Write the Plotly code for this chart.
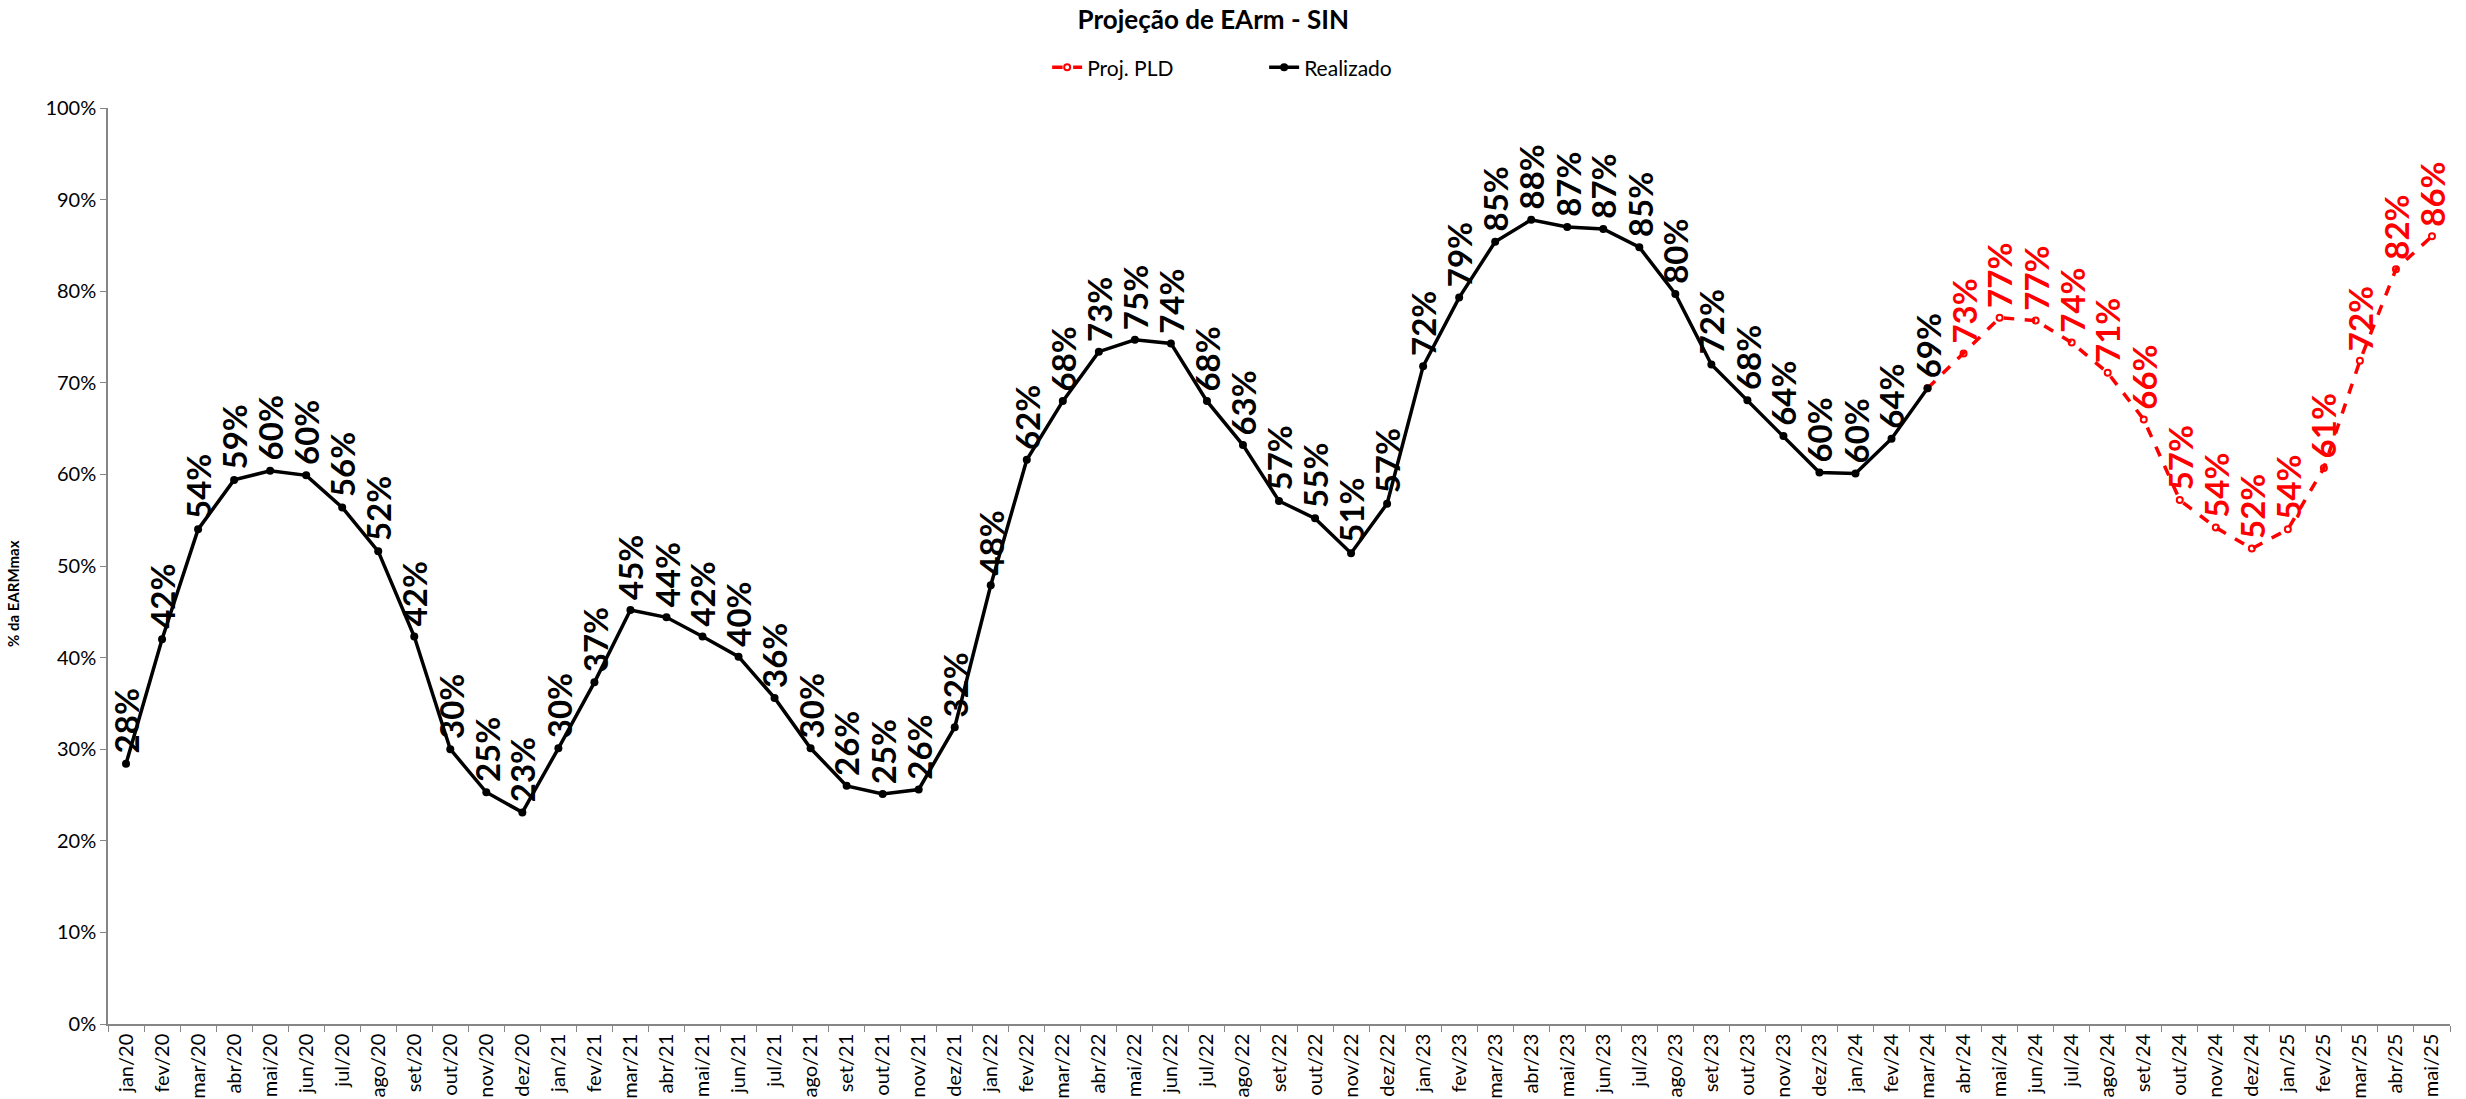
import plotly.graph_objects as go

# Month labels (Portuguese abbreviations) from jan/20 to mai/25
month_names = ["jan", "fev", "mar", "abr", "mai", "jun", "jul", "ago", "set", "out", "nov", "dez"]
categories = [f"{m}/{y}" for y in range(20, 26) for m in month_names][:65]

# Stored energy (% of EARM max), realised history jan/20 .. mar/24
realizado = [
    0.284, 0.420, 0.540, 0.594, 0.604, 0.599, 0.564, 0.516, 0.423, 0.300, 0.253, 0.231,
    0.301, 0.373, 0.452, 0.444, 0.423, 0.401, 0.356, 0.301, 0.260, 0.251, 0.256, 0.324,
    0.479, 0.616, 0.680, 0.734, 0.747, 0.743, 0.680, 0.632, 0.571, 0.552, 0.514, 0.568,
    0.718, 0.793, 0.854, 0.878, 0.870, 0.868, 0.848, 0.797, 0.720, 0.681, 0.642, 0.602,
    0.601, 0.639, 0.694,
]

# PLD projection abr/24 .. mai/25 (anchored on the last realised value)
proj_pld = [
    0.732, 0.771, 0.768, 0.744, 0.711, 0.660, 0.572, 0.542, 0.519,
    0.540, 0.607, 0.724, 0.824, 0.860,
]

n_real = len(realizado)
real_y = realizado + [None] * (len(categories) - n_real)
proj_y = [None] * (n_real - 1) + [realizado[-1]] + proj_pld

FONT = "Lato"
RED = "#FF0000"
BLACK = "#000000"
AXIS_GREY = "#868686"

fig = go.Figure()

fig.add_trace(go.Scatter(
    x=categories, y=proj_y, name="Proj. PLD", mode="lines+markers",
    line=dict(color=RED, width=3.5, dash="dash"),
    marker=dict(symbol="circle-open", size=6, color=RED, line=dict(width=2, color=RED)),
    connectgaps=False,
))
fig.add_trace(go.Scatter(
    x=categories, y=real_y, name="Realizado", mode="lines+markers",
    line=dict(color=BLACK, width=3.5),
    marker=dict(symbol="circle", size=8, color=BLACK),
    connectgaps=False,
))

# Vertical value labels above each point
def value_label(cat, v, color):
    return dict(
        x=cat, y=v, xref="x", yref="y", text=f"{round(v * 100)}%",
        textangle=-90, showarrow=False, xanchor="center", yanchor="bottom", yshift=8,
        font=dict(family=FONT, size=33, color=color, weight="bold"),
    )

annotations = [value_label(c, v, BLACK) for c, v in zip(categories[:n_real], realizado)]
annotations += [value_label(c, v, RED) for c, v in zip(categories[n_real:], proj_pld)]

# y-axis title placed close to the left edge
annotations.append(dict(
    x=0, xref="paper", xanchor="center", xshift=-95,
    y=0.5, yref="paper", yshift=-28, text="<b>% da EARMmax</b>", textangle=-90,
    showarrow=False, font=dict(family=FONT, size=15, color=BLACK),
))

fig.update_layout(
    width=2466, height=1099,
    margin=dict(l=108, r=16, t=108, b=75, autoexpand=False),
    paper_bgcolor="white", plot_bgcolor="white",
    font=dict(family=FONT, color=BLACK),
    title=dict(
        text="<b>Projeção de EArm - SIN</b>", x=0.492, xanchor="center",
        y=0.982, yanchor="middle", font=dict(family=FONT, size=26, color=BLACK),
    ),
    legend=dict(
        orientation="h", x=0.401, xanchor="left", y=1.044, yanchor="middle",
        font=dict(family=FONT, size=21, color=BLACK),
        entrywidth=172, entrywidthmode="pixels", traceorder="normal",
    ),
    annotations=annotations,
    showlegend=True,
)

fig.update_xaxes(
    type="category", categoryorder="array", categoryarray=categories,
    tickangle=-90, tickfont=dict(family=FONT, size=20, color=BLACK),
    showline=True, linecolor=AXIS_GREY, linewidth=1.5,
    ticks="outside", ticklen=6, tickcolor=AXIS_GREY, tickson="boundaries",
    showgrid=False, zeroline=False, range=[-0.5, len(categories) - 0.5],
    automargin=False,
)
fig.update_yaxes(
    range=[0, 1], dtick=0.1, tickformat=".0%",
    tickfont=dict(family=FONT, size=20, color=BLACK),
    showline=True, linecolor=AXIS_GREY, linewidth=1.5,
    ticks="outside", ticklen=6, tickcolor=AXIS_GREY,
    showgrid=False, zeroline=False, automargin=False,
)

fig.write_html("out.html")
